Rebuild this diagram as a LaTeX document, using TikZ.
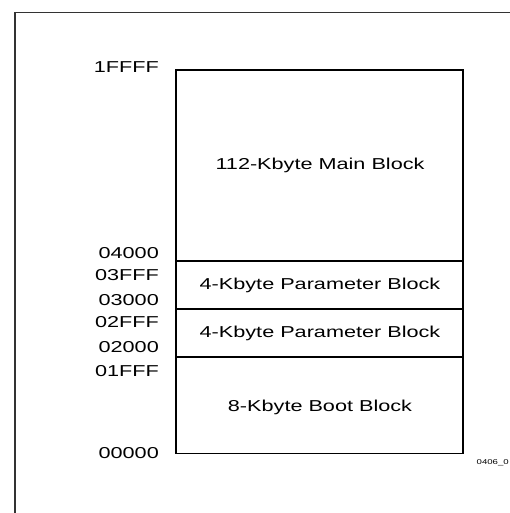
\documentclass[tikz,border=0pt]{standalone}
\usepackage{fontspec}
\setmainfont{Liberation Sans}
\newfontfamily\widefont[FakeStretch=1.37]{Liberation Sans}
\begin{document}
\begin{tikzpicture}[x=1pt,y=-1pt,
  addr/.style={anchor=east,inner sep=0pt,font=\widefont\fontsize{15.8}{18}\selectfont},
  blocktext/.style={inner sep=0pt,font=\widefont\fontsize{15.8}{18}\selectfont},
  memline/.style={line width=1.8pt},
  framestyle/.style={line width=1.4pt,draw=black!80}]
\useasboundingbox (0,0) rectangle (510,513);
% outer frame
\draw[framestyle] (15,520) -- (15,12.5) -- (520,12.5);
% memory map
\coordinate (tl) at (176,70);
\coordinate (br) at (463,453.5);
\draw[memline] (tl) rectangle (br);
\draw[memline] (176,261) -- (463,261);
\draw[memline] (176,309) -- (463,309);
\draw[memline] (176,357) -- (463,357);
\node[blocktext] (main) at (320,165.5) {112-Kbyte Main Block};
\node[blocktext] (p1) at (320,285) {4-Kbyte Parameter Block};
\node[blocktext] (p2) at (320,333) {4-Kbyte Parameter Block};
\node[blocktext] (boot) at (320,407) {8-Kbyte Boot Block};
% addresses
\node[addr] (a1) at (159,67) {1FFFF};
\node[addr] (a2) at (159,252.7) {04000};
\node[addr] (a3) at (159,275) {03FFF};
\node[addr] (a4) at (159,300) {03000};
\node[addr] (a5) at (159,322) {02FFF};
\node[addr] (a6) at (159,347) {02000};
\node[addr] (a7) at (159,371.5) {01FFF};
\node[addr] (a8) at (159,452.7) {00000};
\node[anchor=west,inner sep=0pt,font=\widefont\fontsize{7}{8}\selectfont] (fig) at (476.5,463) {0406\_0};
\end{tikzpicture}
\end{document}
